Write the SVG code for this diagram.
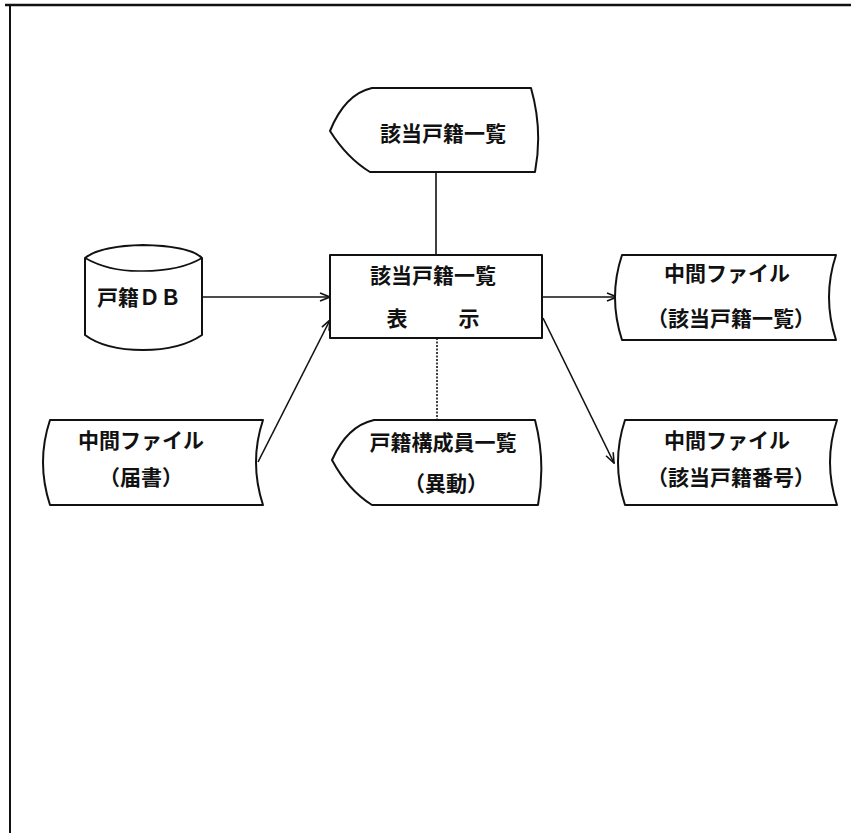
<svg xmlns="http://www.w3.org/2000/svg" width="851" height="833" viewBox="0 0 851 833">
<style>
.s{fill:#fff;stroke:#111;stroke-width:2;stroke-linejoin:round}
.t{font-family:"Noto Sans CJK JP","Noto Sans CJK SC",sans-serif;font-weight:700;font-size:21px;fill:#111;text-anchor:middle}
.c{fill:none;stroke:#111;stroke-width:1.6}
.d{stroke-dasharray:2 1.5}
</style>
<defs>
<marker id="ah" viewBox="0 0 12 10" refX="11" refY="5" markerWidth="12" markerHeight="10" markerUnits="userSpaceOnUse" orient="auto">
<path d="M1,1 L11,5 L1,9" fill="none" stroke="#111" stroke-width="1.6"/>
</marker>
</defs>
<rect width="851" height="833" fill="#fff"/>
<g id="frame">
<path d="M5,5 L851,5" stroke="#111" stroke-width="2.5" fill="none"/>
<path d="M10,5 L10,833" stroke="#111" stroke-width="2" fill="none"/>
</g>
<g id="connectors">
<path class="c" d="M436,172 L436,255"/>
<path class="c d" d="M437,338 L437,420"/>
<path class="c" d="M202,297 L330,297" marker-end="url(#ah)"/>
<path class="c" d="M542,297 L617,297" marker-end="url(#ah)"/>
<path class="c" d="M258,462 L330,320" marker-end="url(#ah)"/>
<path class="c" d="M543,318 L614,463" marker-end="url(#ah)"/>
</g>
<g id="display-top">
<path class="s" d="M372,88 L531,88 Q543,130 535,172 L370,172 Q347,158 330,131 Q345,94 372,88 Z"/>
<text class="t" x="443" y="141">該当戸籍一覧</text>
</g>
<g id="process">
<rect class="s" x="330" y="255" width="212" height="83"/>
<text class="t" x="433" y="283">該当戸籍一覧</text>
<text class="t" x="397" y="326">表</text>
<text class="t" x="469" y="326">示</text>
</g>
<g id="db">
<path class="s" d="M85,258 Q100,246 143,245 Q190,246 202,258 L202,335 Q180,350 143,350 Q105,350 85,335 Z"/>
<path class="c" d="M85,258 Q110,272 143,271 Q180,271 202,258" stroke-width="2"/>
<text class="t" x="139" y="305">戸籍ＤＢ</text>
</g>
<g id="file-list">
<path class="s" d="M622,255 L836,255 Q822,297 836,340 L622,340 Q608,297 622,255 Z"/>
<text class="t" x="727" y="281">中間ファイル</text>
<text class="t" x="731" y="326">（該当戸籍一覧）</text>
</g>
<g id="file-todoke">
<path class="s" d="M50,420 L263,420 Q249,462 263,505 L50,505 Q36,462 50,420 Z"/>
<text class="t" x="141" y="448">中間ファイル</text>
<text class="t" x="141" y="485">（届書）</text>
</g>
<g id="display-members">
<path class="s" d="M374,420 L535,420 Q546,462 538,505 L372,505 Q348,490 332,460 Q347,426 374,420 Z"/>
<text class="t" x="443" y="450">戸籍構成員一覧</text>
<text class="t" x="446" y="491">（異動）</text>
</g>
<g id="file-number">
<path class="s" d="M625,420 L837,420 Q823,462 837,505 L625,505 Q611,462 625,420 Z"/>
<text class="t" x="727" y="448">中間ファイル</text>
<text class="t" x="731" y="485">（該当戸籍番号）</text>
</g>
</svg>
